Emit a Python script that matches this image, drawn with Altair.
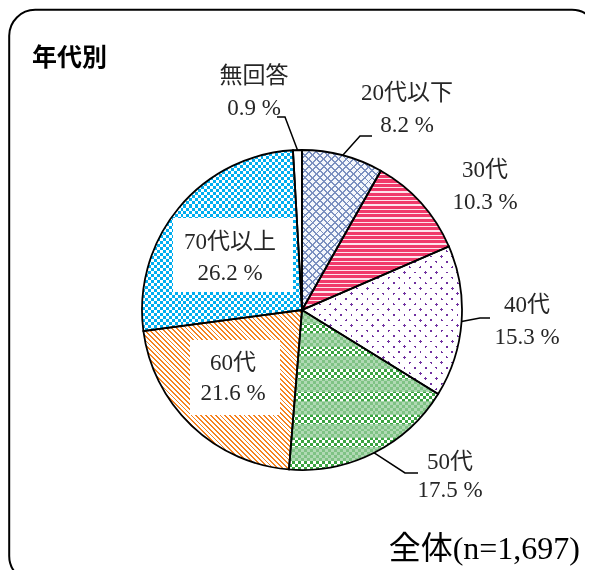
import math
import numpy as np
import pandas as pd
import altair as alt

# ---------------- data ----------------
categories = ["20代以下", "30代", "40代", "50代", "60代", "70代以上", "無回答"]
percents = [8.2, 10.3, 15.3, 17.5, 21.6, 26.2, 0.9]
panel_title = "年代別"
total_label = "全体(n=1,697)"

# ---------------- layout (pixels in view coordinates) ----------------
W, H = 577, 562
CX, CY, R = 294, 302, 160
label_x = [399, 477, 519, 442, 225, 222, 246]
label_y_name = [85, 162, 297, 454, 355, 234, 68]
label_y_pct = [117, 194, 329, 482, 385, 265, 100]
leader_bends = {
    "20代以下": [(352, 128), (364, 128)],
    "40代": [(472, 310), (482, 310)],
    "50代": [(397, 465), (410, 465)],
    "無回答": [(277, 109), (269, 109)],
}
label_boxes = {"70代以上": (165, 210, 285, 284), "60代": (182, 332, 272, 407)}

SERIF = "Liberation Serif, Noto Sans CJK JP"
SANS = "Noto Sans CJK JP"
TXT = "#262626"
CLEAR = "rgba(255,255,255,0)"

cum = np.concatenate([[0.0], np.cumsum(percents)])


def arc_bbox(i):
    t0 = cum[i] / 100 * 2 * math.pi
    t1 = cum[i + 1] / 100 * 2 * math.pi
    pts = [(0, 0), (R * math.sin(t0), -R * math.cos(t0)), (R * math.sin(t1), -R * math.cos(t1))]
    for k in range(5):
        a = k * math.pi / 2
        if t0 < a < t1:
            pts.append((R * math.sin(a), -R * math.cos(a)))
    xs = [p[0] for p in pts]
    ys = [p[1] for p in pts]
    return max(xs) - min(xs), max(ys) - min(ys)


def stripes(kind, i, period, on, off, duty):
    w, h = arc_bbox(i)
    if kind == "h":
        g = dict(x1=0, y1=0, x2=0, y2=1)
        L = h
    elif kind == "v":
        g = dict(x1=0, y1=0, x2=1, y2=0)
        L = w
    else:
        c = (w + h) / (w * w + h * h)
        if kind == "/":
            g = dict(x1=0, y1=0, x2=w * c, y2=h * c)
        else:
            g = dict(x1=0, y1=1, x2=w * c, y2=1 - h * c)
        L = (w + h) / math.sqrt(2)
    n = max(1, round(L / period))
    stops = []
    for k in range(n):
        a, b, e = k / n, (k + duty) / n, (k + 1) / n
        stops += [(a, on), (b, on), (b, off), (e, off)]
    return alt.LinearGradient(
        gradient="linear",
        stops=[alt.GradientStop(offset=round(o, 5), color=col) for o, col in stops],
        **g,
    )


df = pd.DataFrame({"cat": categories, "val": percents, "ord": list(range(len(categories)))})
base = alt.Chart(df).transform_window(
    cum="sum(val)", sort=[alt.SortField("ord")]
).transform_calculate(start="datum.cum - datum.val")

theta_enc = dict(
    theta=alt.Theta("start:Q", scale=alt.Scale(domain=[0, 100], range=[0, 2 * math.pi])),
    theta2=alt.Theta2("cum:Q"),
    x=alt.value(CX),
    y=alt.value(CY),
)


def arc(i, fill, **kw):
    return base.transform_filter(alt.datum.cat == categories[i]).mark_arc(
        radius=R, fill=fill, **kw
    ).encode(**theta_enc)


layers = []
# 20代以下: cross hatch
layers.append(arc(0, stripes("/", 0, 5.2, "#7b90c0", "#f4f7fc", 0.26)))
layers.append(arc(0, stripes("\\", 0, 5.2, "#7b90c0", CLEAR, 0.26)))
# 30代: horizontal pink stripes
layers.append(arc(1, stripes("h", 1, 4.4, "#f03a6a", "#fde3eb", 0.7)))
# 40代: purple dots
layers.append(arc(2, stripes("/", 2, 7.5, "#7030a0", "#ffffff", 0.25)))
layers.append(arc(2, stripes("\\", 2, 7.5, CLEAR, "#ffffff", 0.25)))
# 50代: green checker with pale bands
layers.append(arc(3, stripes("h", 3, 6.0, "#000000", "#ffffff", 0.5)))
layers.append(arc(3, stripes("v", 3, 6.0, "#000000", "#ffffff", 0.5), blend="difference"))
layers.append(arc(3, "#3aa341", blend="screen"))
layers.append(arc(3, stripes("h", 3, 22.0, "rgba(150,205,155,0.75)", CLEAR, 0.6)))
# 60代: orange diagonal lines
layers.append(arc(4, stripes("\\", 4, 3.4, "#f58220", "#ffffff", 0.38)))
# 70代以上: blue checker
layers.append(arc(5, stripes("h", 5, 6.0, "#000000", "#ffffff", 0.5)))
layers.append(arc(5, stripes("v", 5, 6.0, "#000000", "#ffffff", 0.5), blend="difference"))
layers.append(arc(5, "#00aeef", blend="screen"))
# 無回答
layers.append(arc(6, "#ffffff"))

# outlines
layers.append(
    base.mark_arc(radius=R, fill="white", fillOpacity=0, stroke="black", strokeWidth=1.8).encode(**theta_enc)
)

# white label boxes
box_df = pd.DataFrame(
    [{"cat": k, "x0": v[0], "y0": v[1], "x1": v[2], "y1": v[3]} for k, v in label_boxes.items()]
)
layers.append(
    alt.Chart(box_df).mark_rect(fill="white").encode(
        x=alt.X("x0:Q", scale=None), x2="x1:Q", y=alt.Y("y0:Q", scale=None), y2="y1:Q"
    )
)

# leader lines: start at the slice's mid angle on the rim
rows = []
for cat, bends in leader_bends.items():
    i = categories.index(cat)
    mid = (cum[i] + cum[i + 1]) / 2 / 100 * 2 * math.pi
    pts = [(CX + R * math.sin(mid), CY - R * math.cos(mid))] + bends
    for j, (px, py) in enumerate(pts):
        rows.append({"cat": cat, "j": j, "px": px, "py": py})
lead_df = pd.DataFrame(rows)
layers.append(
    alt.Chart(lead_df).mark_line(color="black", strokeWidth=1.5).encode(
        x=alt.X("px:Q", scale=None), y=alt.Y("py:Q", scale=None), detail="cat:N", order="j:Q"
    )
)

# labels
lab_df = pd.DataFrame(
    {
        "name": categories,
        "pct": [f"{v:.1f} %" for v in percents],
        "lx": label_x,
        "ly1": label_y_name,
        "ly2": label_y_pct,
    }
)
for field, yf in (("name", "ly1"), ("pct", "ly2")):
    layers.append(
        alt.Chart(lab_df).mark_text(
            font=SERIF, fontSize=23, color=TXT, align="center", baseline="middle"
        ).encode(x=alt.X("lx:Q", scale=None), y=alt.Y(f"{yf}:Q", scale=None), text=f"{field}:N")
    )

one = pd.DataFrame({"t": [panel_title], "n": [total_label]})
layers.append(
    alt.Chart(one).mark_text(
        font=SANS, fontSize=25, fontWeight="bold", color="black", align="left", baseline="middle"
    ).encode(x=alt.value(24), y=alt.value(50), text="t:N")
)
layers.append(
    alt.Chart(one).mark_text(
        font=SERIF, fontSize=32, color="black", align="right", baseline="middle"
    ).encode(x=alt.value(572), y=alt.value(541), text="n:N")
)

# rounded frame (right and bottom edges lie beyond the visible window)
layers.append(
    alt.Chart(one).mark_rect(
        cornerRadius=26, fill="white", fillOpacity=0, stroke="black", strokeWidth=2
    ).encode(x=alt.value(1.2), x2=alt.value(590), y=alt.value(1.8), y2=alt.value(574))
)

chart = (
    alt.layer(*layers)
    .properties(width=W, height=H, autosize=alt.AutoSizeParams(type="none"), padding=0, background="white")
    .configure_view(stroke=None)
)

chart.save("out.html", embed_options={"renderer": "svg", "actions": False})
